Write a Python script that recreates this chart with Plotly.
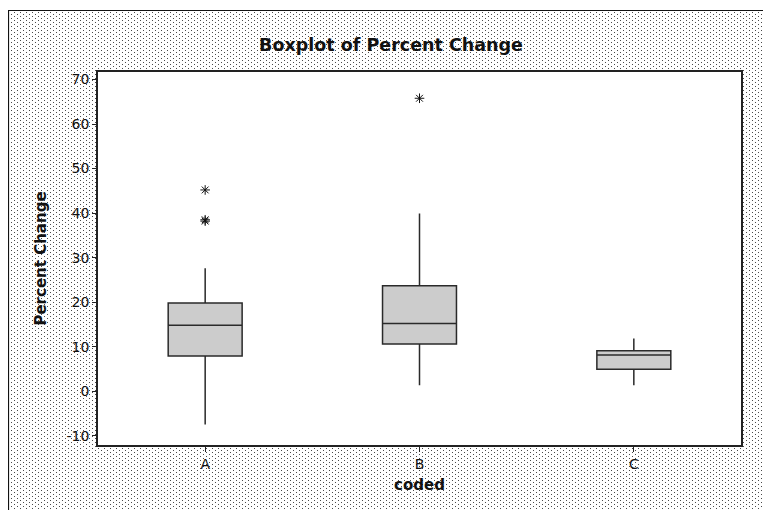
import base64
import plotly.graph_objects as go

# ---- data ----
categories = ["A", "B", "C"]
q1 = [7.9, 10.6, 4.9]
median = [14.8, 15.2, 8.1]
q3 = [19.8, 23.7, 9.05]
lower_whisker = [-7.5, 1.35, 1.3]
upper_whisker = [27.6, 39.9, 11.8]

outlier_cat = ["A", "A", "A", "B"]
outlier_val = [45.2, 38.2, 38.5, 65.8]

y_ticks = [-10, 0, 10, 20, 30, 40, 50, 60, 70]
y_tick_labels = ["-10", "0", "10", "20", "30", "40", "50", "60", "70"]

# ---- layout geometry (page body adds an 8px offset) ----
W, H = 771, 510
L, R, T, B = 90, 38, 64, 73
PW, PH = W - L - R, H - T - B

FONT = "DejaVu Sans"

# stippled Minitab-style background (styling only)
svg = f'''<svg xmlns="http://www.w3.org/2000/svg" width="{W}" height="{H}" viewBox="0 0 {W} {H}">
<defs><pattern id="p" x="0" y="0" width="6" height="4" patternUnits="userSpaceOnUse">
<rect x="0" y="0" width="1" height="1" fill="#4a4a4a"/>
<rect x="3" y="2" width="1" height="1" fill="#4a4a4a"/>
</pattern></defs>
<rect x="0" y="0" width="{W}" height="{H}" fill="#ffffff"/>
<rect x="0" y="2" width="{W}" height="{H-2}" fill="url(#p)"/>
<rect x="{L}" y="{T}" width="{PW}" height="{PH}" fill="#ffffff"/>
<path d="M0.5 {H} V2.5 H{W}" stroke="#111" stroke-width="1.2" fill="none"/>
</svg>'''
bg_src = "data:image/svg+xml;base64," + base64.b64encode(svg.encode()).decode()

fig = go.Figure()

fig.add_trace(go.Box(
    x=categories,
    q1=q1, median=median, q3=q3,
    lowerfence=lower_whisker, upperfence=upper_whisker,
    width=0.345,
    whiskerwidth=0,
    fillcolor="#cccccc",
    line=dict(color="#2a2a2a", width=1.5),
    boxpoints=False,
    showlegend=False,
    hoverinfo="skip",
))

fig.add_trace(go.Scatter(
    x=outlier_cat, y=outlier_val,
    mode="markers",
    marker=dict(symbol="asterisk-open", size=8, color="#111",
                line=dict(color="#111", width=1)),
    showlegend=False,
    hoverinfo="skip",
))

fig.update_layout(
    width=W, height=H,
    margin=dict(l=L, r=R, t=T, b=B, autoexpand=False),
    paper_bgcolor="white",
    plot_bgcolor="white",
    font=dict(family=FONT, size=14, color="#111"),
    title=dict(
        text="Boxplot of Percent Change",
        font=dict(family=FONT, size=17.5, weight="bold", color="#111"),
        x=383 / W, xref="container", xanchor="center",
        y=1 - 37 / H, yref="container", yanchor="middle",
    ),
    images=[dict(
        source=bg_src, xref="paper", yref="paper",
        x=-L / PW, y=1 + T / PH, sizex=W / PW, sizey=H / PH,
        xanchor="left", yanchor="top", sizing="stretch", layer="below",
    )],
    xaxis=dict(
        type="category", categoryorder="array", categoryarray=categories,
        range=[-0.5, 2.5],
        showline=True, mirror=True, linecolor="#222", linewidth=1.5,
        ticks="outside", ticklen=5, tickcolor="#222", tickwidth=1,
        showgrid=False, zeroline=False,
        tickfont=dict(family=FONT, size=14, color="#111"),
        title=dict(text="coded", standoff=9,
                   font=dict(family=FONT, size=15, weight="bold", color="#111")),
    ),
    yaxis=dict(
        range=[-12.1, 71.7],
        tickvals=y_ticks, ticktext=y_tick_labels,
        showline=True, mirror=True, linecolor="#222", linewidth=1.5,
        ticks="outside", ticklen=4, tickcolor="#222", tickwidth=1,
        showgrid=False, zeroline=False,
        tickfont=dict(family=FONT, size=14, color="#111"),
        title=dict(text="Percent Change", standoff=16,
                   font=dict(family=FONT, size=15, weight="bold", color="#111")),
    ),
)

fig.write_html("out.html")
